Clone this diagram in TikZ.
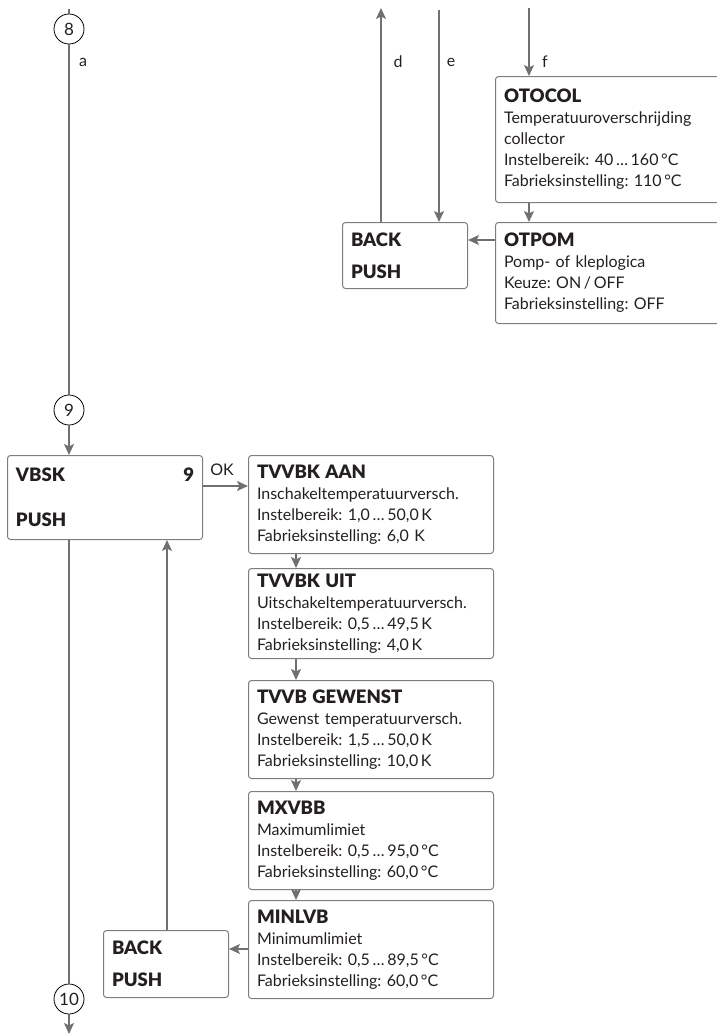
\documentclass[tikz,border=0pt]{standalone}
\usepackage{fontspec}
\setmainfont{Lato}[BoldFont={Lato Black}]
\frenchspacing
\usetikzlibrary{arrows.meta,positioning}
\definecolor{linegray}{RGB}{112,112,112}
\definecolor{boxgray}{RGB}{125,125,125}
\definecolor{textdark}{RGB}{35,31,32}
\newcommand{\menutitle}[1]{{\fontsize{18.5}{21}\selectfont\bfseries #1}}
\tikzset{
  wire/.style={linegray, line width=1.6pt},
  flow/.style={wire, -{Stealth[length=11pt,width=10pt,inset=2.5pt]}},
  menubox/.style={draw=boxgray, line width=1pt, rounded corners=3pt,
                  anchor=north west, inner xsep=8pt, inner ysep=5pt,
                  align=left, text=textdark,
                  font=\fontsize{16}{21}\selectfont},
  infobox/.style={menubox, minimum width=245pt, text width=228pt,
                  minimum height=98pt},
  sidebox/.style={menubox, minimum width=240pt, text width=223pt},
  backbox/.style={menubox, minimum width=125pt, text width=108pt,
                  minimum height=67pt},
  marker/.style={circle, draw=black, line width=0.8pt, fill=white,
                 minimum size=30pt, inner sep=0pt, text=textdark,
                 font=\fontsize{17}{18}\selectfont},
  lab/.style={text=textdark, font=\fontsize{16}{18}\selectfont},
}

\begin{document}
\begin{tikzpicture}[x=1pt,y=-1pt]
  \path[use as bounding box] (0,0) rectangle (717,1036);
  \clip (0,0) rectangle (717,1036);

  \coordinate (top8) at (69,9);
  \node[marker] (c8) at (69,29) {8};
  \node[lab] (la) at (83,62) {a};
  \node[marker] (c9) at (69,410) {9};
  \draw[wire] (top8) -- (c8);
  \draw[wire] (c8) -- (c9);

  \coordinate (topd) at (381,8);
  \coordinate (tope) at (439,10);
  \coordinate (topf) at (529,8);
  \node[lab] (ld) at (398,62) {d};
  \node[lab] (le) at (451,62) {e};
  \node[lab] (lf) at (545,62) {f};

  \node[sidebox, minimum height=126pt] (otocol) at (495,76)
    {\menutitle{OTOCOL}\\
     Temperatuuroverschrijding\\
     collector\\
     Instelbereik: 40\,\ldots\,160\,°C\\
     Fabrieksinstelling: 110\,°C};
  \node[sidebox, minimum height=101pt] (otpom) at (495,222)
    {\menutitle{OTPOM}\\
     Pomp- of kleplogica\\
     Keuze: ON\,/\,OFF\\
     Fabrieksinstelling: OFF};
  \node[backbox, minimum height=66pt] (backt) at (342,222)
    {\menutitle{BACK}\\[11pt]\menutitle{PUSH}};
  \draw[flow] (topf) -- ([xshift=34pt]otocol.north west);
  \draw[flow] ([xshift=34pt]otocol.south west) -- ([xshift=34pt]otpom.north west);
  \draw[flow] ([yshift=-18pt]otpom.north west) -- ([yshift=-18pt]backt.north east);
  \draw[flow] ([xshift=39pt]backt.north west) -- (topd);
  \draw[flow] (tope) -- ([xshift=97pt]backt.north west);

  \node[menubox, minimum width=195pt, text width=178pt, minimum height=84pt]
    (vbsk) at (7,455)
    {\menutitle{VBSK}\hfill\menutitle{9}\\[24pt]\menutitle{PUSH}};
  \draw[flow] (c9) -- (c9 |- vbsk.north);

  \node[infobox] (aan) at (248,455)
    {\menutitle{TVVBK AAN}\\
     Inschakeltemperatuurversch.\\
     Instelbereik: 1,0\,\ldots\,50,0\,K\\
     Fabrieksinstelling: 6,0 K};
  \node[infobox, minimum height=90pt] (uit) at (248,568)
    {\menutitle{TVVBK UIT}\\
     Uitschakeltemperatuurversch.\\
     Instelbereik: 0,5\,\ldots\,49,5\,K\\
     Fabrieksinstelling: 4,0\,K};
  \node[infobox] (gewenst) at (248,680)
    {\menutitle{TVVB GEWENST}\\
     Gewenst temperatuurversch.\\
     Instelbereik: 1,5\,\ldots\,50,0\,K\\
     Fabrieksinstelling: 10,0\,K};
  \node[infobox] (mxvbb) at (248,791)
    {\menutitle{MXVBB}\\
     Maximumlimiet\\
     Instelbereik: 0,5\,\ldots\,95,0\,°C\\
     Fabrieksinstelling: 60,0\,°C};
  \node[infobox] (minlvb) at (248,900)
    {\menutitle{MINLVB}\\
     Minimumlimiet\\
     Instelbereik: 0,5\,\ldots\,89,5\,°C\\
     Fabrieksinstelling: 60,0\,°C};

  \node[lab] (lok) at (222,470) {OK};
  \draw[flow] ([yshift=-31pt]vbsk.north east) -- ([yshift=-31pt]aan.north west);
  \draw[flow] ([xshift=48pt]aan.south west) -- ([xshift=48pt]uit.north west);
  \draw[flow] ([xshift=48pt]uit.south west) -- ([xshift=48pt]gewenst.north west);
  \draw[flow] ([xshift=48pt]gewenst.south west) -- ([xshift=48pt]mxvbb.north west);
  \draw[flow] ([xshift=48pt]mxvbb.south west) -- ([xshift=48pt]minlvb.north west);

  \node[backbox] (backb) at (103,930)
    {\menutitle{BACK}\\[11pt]\menutitle{PUSH}};
  \draw[flow] ([yshift=-49pt]minlvb.north west) -- ([yshift=-19pt]backb.north east);
  \draw[flow] ([xshift=64pt]backb.north west) -- ([xshift=64pt]backb.north west |- vbsk.south);

  \node[marker] (c10) at (69,999) {10};
  \coordinate (bot10) at (69,1034);
  \draw[wire] (c10 |- vbsk.south) -- (c10);
  \draw[flow] (c10) -- (bot10);
\end{tikzpicture}
\end{document}
